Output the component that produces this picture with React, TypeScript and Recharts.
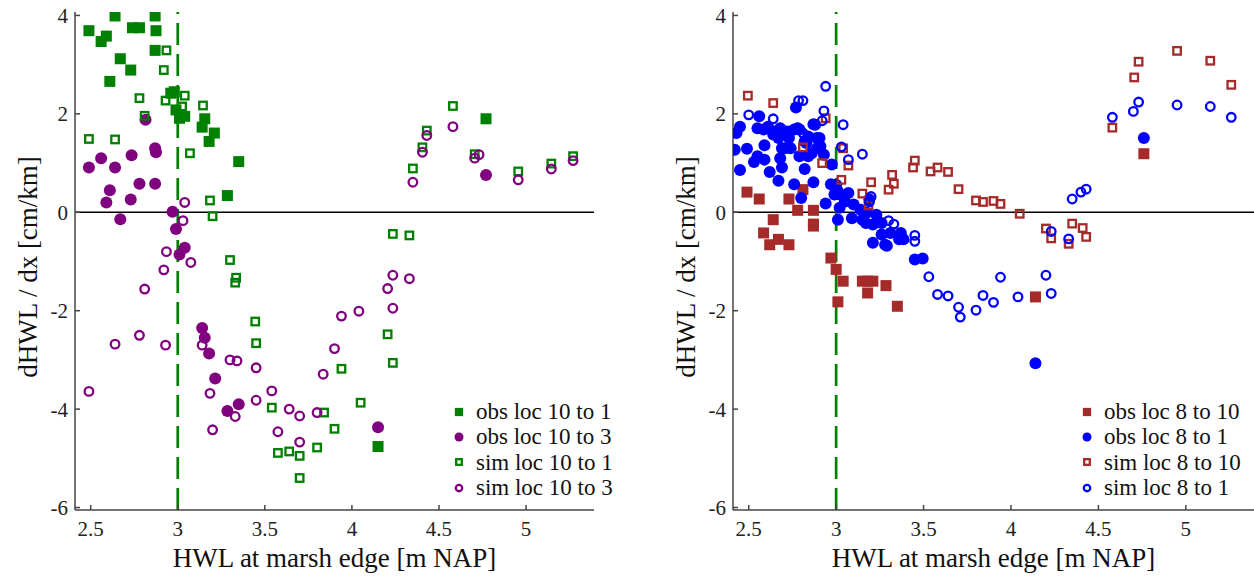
import React from 'react';
import {
  ScatterChart,
  Scatter,
  XAxis,
  YAxis,
  ReferenceLine,
  Legend,
} from 'recharts';

// [HWL, dHWL/dx] pairs
const obsLoc10to1: [number, number][] = [
  [2.49, 3.69], [2.56, 3.47], [2.59, 3.58], [2.64, 3.99], [2.67, 3.12], [2.61, 2.66],
  [2.73, 2.89], [2.74, 3.75], [2.78, 3.75], [2.87, 3.99], [2.875, 3.69], [2.87, 3.29],
  [2.96, 2.42], [2.98, 2.45], [2.99, 2.08], [3.01, 1.91], [3.04, 1.95], [3.155, 1.9],
  [3.14, 1.73], [3.21, 1.61], [3.18, 1.44], [3.35, 1.03], [3.285, 0.34], [4.15, -4.76],
  [4.77, 1.9],
];
const obsLoc10to3: [number, number][] = [
  [2.49, 0.91], [2.56, 1.1], [2.64, 0.91], [2.61, 0.45], [2.59, 0.2], [2.67, -0.14],
  [2.73, 0.26], [2.735, 1.16], [2.78, 0.58], [2.87, 0.58], [2.87, 1.3], [2.875, 1.22],
  [2.815, 1.88], [2.97, 0.01], [2.99, -0.34], [3.04, -0.72], [3.01, -0.86], [3.14, -2.35],
  [3.155, -2.55], [3.18, -2.87], [3.215, -3.38], [3.285, -4.04], [3.35, -3.9],
  [4.15, -4.37], [4.77, 0.76],
];
const simLoc10to1: [number, number][] = [
  [2.49, 1.49], [2.64, 1.48], [2.78, 2.32], [2.81, 1.96], [2.92, 2.89], [2.935, 3.29],
  [2.93, 2.27], [3.04, 2.37], [3.025, 2.15], [3.145, 2.17], [3.07, 1.2], [3.185, 0.24],
  [3.2, -0.08], [3.3, -0.97], [3.335, -1.33], [3.33, -1.43], [3.445, -2.22], [3.45, -2.66],
  [3.54, -3.97], [3.575, -4.89], [3.64, -4.86], [3.7, -4.95], [3.7, -5.4], [3.8, -4.78],
  [3.84, -4.07], [3.9, -4.4], [3.94, -3.18], [4.05, -3.87], [4.205, -2.48], [4.235, -3.06],
  [4.235, -0.44], [4.33, -0.47], [4.35, 0.89], [4.405, 1.32], [4.43, 1.66], [4.58, 2.16],
  [4.705, 1.18], [4.955, 0.83], [5.145, 0.99], [5.27, 1.14],
];
const simLoc10to3: [number, number][] = [
  [3.04, 0.2], [3.03, -0.17], [2.935, -0.8], [3.075, -1.02], [2.92, -1.17], [2.81, -1.56],
  [2.78, -2.5], [2.64, -2.68], [2.93, -2.7], [2.49, -3.64], [3.14, -2.7], [3.185, -3.68],
  [3.2, -4.42], [3.3, -3.0], [3.34, -3.02], [3.33, -4.15], [3.45, -3.16], [3.45, -3.82],
  [3.54, -3.63], [3.575, -4.46], [3.64, -4.0], [3.7, -4.14], [3.7, -4.67], [3.8, -4.07],
  [3.835, -3.29], [3.9, -2.77], [3.94, -2.11], [4.04, -2.01], [4.205, -1.55], [4.235, -1.28],
  [4.33, -1.35], [4.235, -1.95], [4.35, 0.61], [4.405, 1.22], [4.43, 1.56], [4.58, 1.74],
  [4.705, 1.1], [4.73, 1.17], [4.955, 0.66], [5.145, 0.88], [5.27, 1.05],
];

const obsLoc8to10: [number, number][] = [
  [2.49, 0.41], [2.56, 0.27], [2.64, -0.15], [2.585, -0.42], [2.62, -0.66], [2.67, -0.55],
  [2.73, -0.66], [2.73, 0.27], [2.78, 0.04], [2.81, 0.46], [2.87, 0.04], [2.87, -0.24],
  [2.87, -0.28], [2.97, -0.93], [3.0, -1.16], [3.04, -1.4], [3.01, -1.82], [3.15, -1.4],
  [3.18, -1.4], [3.21, -1.4], [3.18, -1.64], [3.285, -1.49], [3.35, -1.91], [4.14, -1.72],
  [4.76, 1.19],
];
const obsLoc8to1: [number, number][] = [
  [2.42, 1.27], [2.43, 1.61], [2.45, 1.74], [2.45, 0.86], [2.49, 1.29], [2.53, 1.02],
  [2.55, 1.14], [2.56, 1.95], [2.55, 1.71], [2.59, 1.36], [2.59, 1.07], [2.585, 1.68],
  [2.61, 1.74], [2.62, 0.82], [2.64, 1.58], [2.65, 1.64], [2.67, 0.64], [2.67, 1.51],
  [2.68, 1.71], [2.68, 1.1], [2.69, 0.91], [2.69, 1.3], [2.71, 1.3], [2.72, 1.64],
  [2.73, 1.51], [2.74, 1.3], [2.76, 0.57], [2.77, 2.13], [2.76, 1.68], [2.78, 1.71],
  [2.79, 1.68], [2.79, 1.14], [2.8, 0.29], [2.82, 0.88], [2.82, 1.44], [2.83, 1.41],
  [2.84, 1.54], [2.84, 1.14], [2.86, 1.2], [2.87, 0.61], [2.87, 1.79], [2.88, 1.78],
  [2.89, 1.51], [2.89, 1.3], [2.905, 1.51], [2.91, 1.34], [2.93, 1.17], [2.94, 0.18],
  [2.975, 0.97], [2.97, 0.57], [2.99, 0.36], [3.0, 0.56], [3.01, 0.43], [3.02, 0.36],
  [3.05, 0.22], [3.07, 0.39], [3.01, -0.15], [3.02, 0.09], [3.09, -0.12], [3.1, 0.16],
  [3.14, 0.05], [3.15, -0.15], [3.17, -0.22], [3.175, -0.01], [3.19, 0.26], [3.21, -0.62],
  [3.21, -0.25], [3.23, -0.05], [3.26, -0.22], [3.26, -0.45], [3.29, -0.68], [3.28, -0.66],
  [3.31, -0.42], [3.36, -0.55], [3.37, -0.42], [3.385, -0.55], [3.45, -0.96], [3.495, -0.94],
  [4.14, -3.07], [4.76, 1.51],
];
const simLoc8to10: [number, number][] = [
  [2.495, 2.37], [2.64, 2.22], [2.81, 1.32], [2.92, 1.0], [2.94, 1.91], [3.03, 0.66],
  [3.04, 1.3], [3.07, 0.95], [3.15, 0.38], [3.2, 0.61], [3.185, 0.14], [3.3, 0.46],
  [3.32, 0.76], [3.33, 0.58], [3.44, 0.91], [3.45, 1.05], [3.54, 0.83], [3.58, 0.91],
  [3.64, 0.82], [3.7, 0.47], [3.8, 0.24], [3.84, 0.21], [3.9, 0.23], [3.94, 0.17],
  [4.05, -0.03], [4.2, -0.33], [4.23, -0.53], [4.33, -0.64], [4.35, -0.23], [4.41, -0.32],
  [4.43, -0.5], [4.58, 1.72], [4.705, 2.74], [4.73, 3.06], [4.95, 3.28], [5.14, 3.08],
  [5.26, 2.59],
];
const simLoc8to1: [number, number][] = [
  [2.5, 1.98], [2.64, 1.9], [2.785, 2.27], [2.81, 2.27], [2.81, 1.61], [2.94, 2.56],
  [2.93, 2.06], [2.92, 1.86], [3.04, 1.78], [3.03, 1.33], [3.07, 1.07], [3.15, 1.18],
  [3.2, 0.32], [3.19, 0.21], [3.3, -0.17], [3.33, -0.24], [3.45, -0.47], [3.45, -0.59],
  [3.53, -1.31], [3.58, -1.67], [3.64, -1.7], [3.7, -1.93], [3.71, -2.13], [3.8, -1.99],
  [3.84, -1.69], [3.9, -1.83], [3.94, -1.32], [4.04, -1.72], [4.2, -1.28], [4.23, -1.65],
  [4.23, -0.39], [4.33, -0.54], [4.35, 0.27], [4.4, 0.41], [4.43, 0.47], [4.58, 1.93],
  [4.7, 2.05], [4.73, 2.24], [4.95, 2.18], [5.14, 2.15], [5.26, 1.93],
];

const xTicks = [2.5, 3, 3.5, 4, 4.5, 5];
const yTicks = [-6, -4, -2, 0, 2, 4];
const thresholdHWL = 3;

const GREEN = '#008000';
const PURPLE = '#800080';
const BROWN = '#a52a2a';
const BLUE = '#0000ff';
const FONT = '"Liberation Serif", serif';

type Kind = 'square' | 'circle' | 'openSquare' | 'openCircle';
interface Series {
  name: string;
  points: [number, number][];
  color: string;
  kind: Kind;
}

const leftSeries: Series[] = [
  { name: 'obs loc 10 to 1', points: obsLoc10to1, color: GREEN, kind: 'square' },
  { name: 'obs loc 10 to 3', points: obsLoc10to3, color: PURPLE, kind: 'circle' },
  { name: 'sim loc 10 to 1', points: simLoc10to1, color: GREEN, kind: 'openSquare' },
  { name: 'sim loc 10 to 3', points: simLoc10to3, color: PURPLE, kind: 'openCircle' },
];
const rightSeries: Series[] = [
  { name: 'obs loc 8 to 10', points: obsLoc8to10, color: BROWN, kind: 'square' },
  { name: 'obs loc 8 to 1', points: obsLoc8to1, color: BLUE, kind: 'circle' },
  { name: 'sim loc 8 to 10', points: simLoc8to10, color: BROWN, kind: 'openSquare' },
  { name: 'sim loc 8 to 1', points: simLoc8to1, color: BLUE, kind: 'openCircle' },
];

function Marker({ cx, cy, kind, color, small }: { cx: number; cy: number; kind: Kind; color: string; small?: boolean }) {
  const k = small ? 0.75 : 1;
  if (kind === 'square') {
    const s = 11 * k;
    return <rect x={cx - s / 2} y={cy - s / 2} width={s} height={s} fill={color} />;
  }
  if (kind === 'circle') {
    return <circle cx={cx} cy={cy} r={6 * k} fill={color} />;
  }
  if (kind === 'openSquare') {
    const s = 7.5 * k;
    return <rect x={cx - s / 2} y={cy - s / 2} width={s} height={s} fill="none" stroke={color} strokeWidth={2.3} />;
  }
  return <circle cx={cx} cy={cy} r={4.3 * k} fill="none" stroke={color} strokeWidth={2.3} />;
}

function LegendBox({ items }: { items: Series[] }) {
  return (
    <div style={{ fontFamily: FONT, fontSize: 23, color: '#111', lineHeight: '25.3px' }}>
      {items.map((s) => (
        <div key={s.name} style={{ display: 'flex', alignItems: 'center', height: 25.3, whiteSpace: 'nowrap' }}>
          <svg width={16} height={16} style={{ marginRight: 9 }}>
            <Marker cx={8} cy={8} kind={s.kind} color={s.color} small />
          </svg>
          <span>{s.name}</span>
        </div>
      ))}
    </div>
  );
}

function YTitle(props: any) {
  const vb = props.viewBox || { x: 0, y: 12, width: 75, height: 498 };
  const cx = vb.x + vb.width - 47;
  const cy = vb.y + vb.height / 2 + 6;
  return (
    <text
      x={cx}
      y={cy}
      transform={`rotate(-90, ${cx}, ${cy})`}
      textAnchor="middle"
      dominantBaseline="central"
      fill="#111"
      style={{ fontFamily: FONT, fontSize: 27 }}
    >
      dHWL / dx [cm/km]
    </text>
  );
}

const tickStyle = { fill: '#222', fontSize: 21, fontFamily: FONT };
const axisStroke = { stroke: '#444', strokeWidth: 1.5 };

function Panel({ series, width, yAxisWidth, rightMargin, legendLeft }: {
  series: Series[];
  width: number;
  yAxisWidth: number;
  rightMargin: number;
  legendLeft: number;
}) {
  return (
    <ScatterChart
      width={width}
      height={580}
      margin={{ top: 12, right: rightMargin, bottom: 0, left: 0 }}
      style={{ fontFamily: FONT }}
    >
      <XAxis
        type="number"
        dataKey="x"
        domain={[2.41, 5.39]}
        ticks={xTicks}
        allowDataOverflow
        height={70}
        tickSize={-5}
        tickMargin={16}
        tick={tickStyle}
        axisLine={axisStroke}
        tickLine={axisStroke}
        label={{
          value: 'HWL at marsh edge [m NAP]',
          position: 'insideBottom',
          offset: 13,
          style: { fill: '#111', fontSize: 27, fontFamily: FONT },
        }}
      />
      <YAxis
        type="number"
        dataKey="y"
        domain={[-6.05, 4.07]}
        ticks={yTicks}
        allowDataOverflow
        width={yAxisWidth}
        tickSize={-5}
        tickMargin={12}
        tick={tickStyle}
        axisLine={axisStroke}
        tickLine={axisStroke}
        label={<YTitle />}
      />
      {series.map((s) => (
        <Scatter
          key={s.name}
          name={s.name}
          data={s.points.map(([x, y]) => ({ x, y }))}
          isAnimationActive={false}
          shape={(p: any) => <Marker cx={p.cx} cy={p.cy} kind={s.kind} color={s.color} />}
        />
      ))}
      <ReferenceLine y={0} stroke="#000" strokeWidth={1.5} />
      <ReferenceLine x={thresholdHWL} stroke={GREEN} strokeWidth={2.7} strokeDasharray="22 9" />
      <Legend
        layout="vertical"
        align="center"
        verticalAlign="middle"
        wrapperStyle={{ left: legendLeft, top: 399, width: 'auto' }}
        content={() => <LegendBox items={series} />}
      />
    </ScatterChart>
  );
}

export default function App() {
  return (
    <div
      style={{
        position: 'absolute',
        left: 0,
        top: 0,
        width: 1254,
        height: 580,
        background: '#fff',
        overflow: 'hidden',
        fontFamily: FONT,
      }}
    >
      <div style={{ position: 'absolute', left: 0, top: 0 }}>
        <Panel series={leftSeries} width={620} yAxisWidth={75} rightMargin={26} legendLeft={451} />
      </div>
      <div style={{ position: 'absolute', left: 640, top: 0 }}>
        <Panel series={rightSeries} width={614} yAxisWidth={93} rightMargin={0} legendLeft={439} />
      </div>
    </div>
  );
}
